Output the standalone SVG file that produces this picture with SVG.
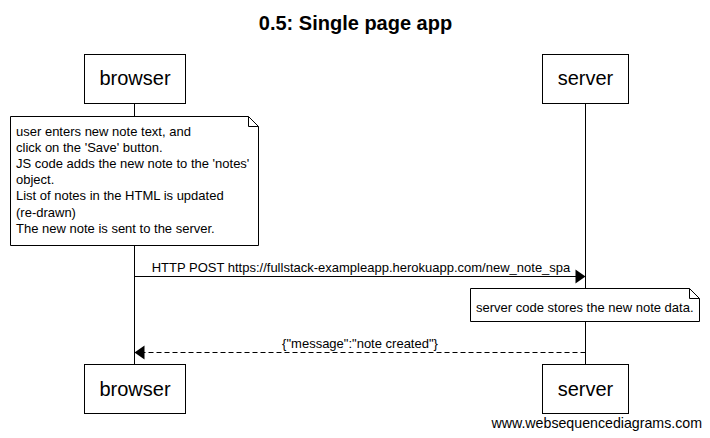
<svg xmlns="http://www.w3.org/2000/svg" width="710" height="438" viewBox="0 0 710 438">
<style>
text{font-family:"Liberation Sans",Arial,sans-serif;fill:#000}
.title{font-size:20px;font-weight:bold;text-anchor:middle}
.actor{font-size:20px;text-anchor:middle}
.box{fill:#fff;stroke:#000;stroke-width:1}
.note{fill:#fff;stroke:#000;stroke-width:1}
.fold{fill:none;stroke:#000;stroke-width:1}
.t12{font-size:13px}
.lbl{font-size:13px;text-anchor:middle}
.life{stroke:#000;stroke-width:1}
.msg{stroke:#000;stroke-width:1;fill:none}
.dash{stroke-dasharray:5 3}
.wm{font-size:14.2px;text-anchor:end}
</style>
<rect width="710" height="438" fill="#fff"/>
<text class="title" x="355.5" y="30">0.5: Single page app</text>
<g id="lifelines">
<line class="life" x1="134.5" y1="103" x2="134.5" y2="364"/>
<line class="life" x1="585.5" y1="103" x2="585.5" y2="364"/>
</g>
<g id="browser-top"><rect class="box" x="84.5" y="54.5" width="101" height="49"/><text class="actor" x="135" y="85">browser</text></g>
<g id="server-top"><rect class="box" x="542.5" y="54.5" width="86" height="49"/><text class="actor" x="585.5" y="85">server</text></g>
<g id="note-browser">
<path class="note" d="M10.5 116.5 H248.5 L258.5 126.5 V245.5 H10.5 Z"/>
<path class="fold" d="M248.5 116.5 V126.5 H258.5"/>
<text class="t12" x="16" y="135.5"><tspan x="16">user enters new note text, and</tspan><tspan x="16" dy="16.2">click on the 'Save' button.</tspan><tspan x="16" dy="16.2">JS code adds the new note to the 'notes'</tspan><tspan x="16" dy="16.2">object.</tspan><tspan x="16" dy="16.2">List of notes in the HTML is updated</tspan><tspan x="16" dy="16.2">(re-drawn)</tspan><tspan x="16" dy="16.2">The new note is sent to the server.</tspan></text>
</g>
<g id="note-server">
<path class="note" d="M470.5 288.5 H689.5 L699.5 298.5 V321.5 H470.5 Z"/>
<path class="fold" d="M689.5 288.5 V298.5 H699.5"/>
<text class="t12" x="476" y="312">server code stores the new note data.</text>
</g>
<g id="connectors">
<line class="msg" x1="134.5" y1="276.5" x2="576" y2="276.5"/>
<polygon points="585.5,276.5 575.5,269.5 575.5,283.5" fill="#000"/>
<text class="lbl" x="361" y="272">HTTP POST https://fullstack-exampleapp.herokuapp.com/new_note_spa</text>
<line class="msg dash" x1="585.5" y1="352.5" x2="144" y2="352.5"/>
<polygon points="134.5,352.5 144.5,345.5 144.5,359.5" fill="#000"/>
<text class="lbl" x="360" y="348">{"message":"note created"}</text>
</g>
<g id="browser-bottom"><rect class="box" x="84.5" y="364.5" width="101" height="49"/><text class="actor" x="135" y="396">browser</text></g>
<g id="server-bottom"><rect class="box" x="542.5" y="364.5" width="86" height="49"/><text class="actor" x="585.5" y="396">server</text></g>
<text class="wm" x="702" y="428">www.websequencediagrams.com</text>
</svg>
